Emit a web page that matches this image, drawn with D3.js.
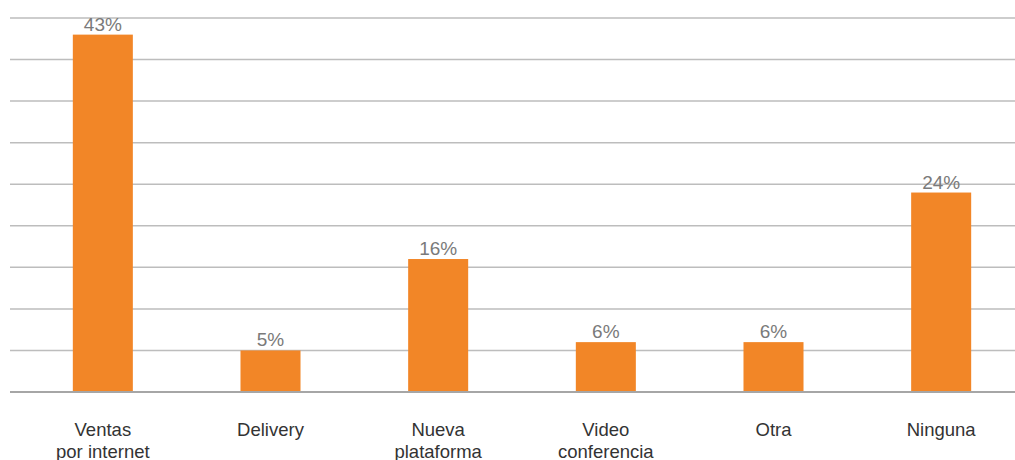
<!DOCTYPE html>
<html>
<head>
<meta charset="utf-8">
<script src="https://cdn.jsdelivr.net/npm/d3@7"></script>
<style>
  body { margin: 0; background: white; }
  svg { display: block; font-family: "Liberation Sans", Arial, sans-serif; }
</style>
</head>
<body>
<script>
// chart data
const categories = [["Ventas", "por internet"], ["Delivery"], ["Nueva", "plataforma"], ["Video", "conferencia"], ["Otra"], ["Ninguna"]];
const values = [43, 5, 16, 6, 6, 24];
const gridTicks = [0, 5, 10, 15, 20, 25, 30, 35, 40, 45];

const width = 1015, height = 460;
const barColor = "#F28627";
const gridColor = "#bdbdbd";

const svg = d3.select("body").append("svg")
    .attr("width", width)
    .attr("height", height);

const x = d3.scaleBand()
    .domain(d3.range(categories.length))
    .range([19, 1025])
    .paddingInner(0.642)
    .paddingOuter(0.321);

const y = d3.scaleLinear()
    .domain([0, 45])
    .range([392, 18]);

// gridlines
svg.append("g").selectAll("line")
    .data(gridTicks.filter(d => d > 0))
  .enter().append("line")
    .attr("x1", 10)
    .attr("x2", width)
    .attr("y1", d => y(d))
    .attr("y2", d => y(d))
    .style("stroke", gridColor)
    .style("stroke-width", 1.5);

// bars
svg.append("g").selectAll("rect")
    .data(values)
  .enter().append("rect")
    .attr("x", (d, i) => x(i))
    .attr("y", d => y(d))
    .attr("width", x.bandwidth())
    .attr("height", d => y(0) - y(d))
    .style("fill", barColor);

// baseline
svg.append("line")
    .attr("x1", 10)
    .attr("x2", width)
    .attr("y1", y(0))
    .attr("y2", y(0))
    .style("stroke", "#a6a6a6")
    .style("stroke-width", 2);

// value labels
svg.append("g").selectAll("text")
    .data(values)
  .enter().append("text")
    .attr("x", (d, i) => x(i) + x.bandwidth() / 2)
    .attr("y", d => y(d) - 4)
    .attr("text-anchor", "middle")
    .style("font-size", "19px")
    .style("fill", "#7a7a7a")
    .text(d => d + "%");

// category labels
const cat = svg.append("g").selectAll("text")
    .data(categories)
  .enter().append("text")
    .attr("text-anchor", "middle")
    .attr("transform", (d, i) => `translate(${x(i) + x.bandwidth() / 2},436)`)
    .style("font-size", "18.5px")
    .style("fill", "#333");

cat.selectAll("tspan")
    .data(d => d)
  .enter().append("tspan")
    .attr("x", 0)
    .attr("y", (d, i) => i * 22)
    .text(d => d);
</script>
</body>
</html>
